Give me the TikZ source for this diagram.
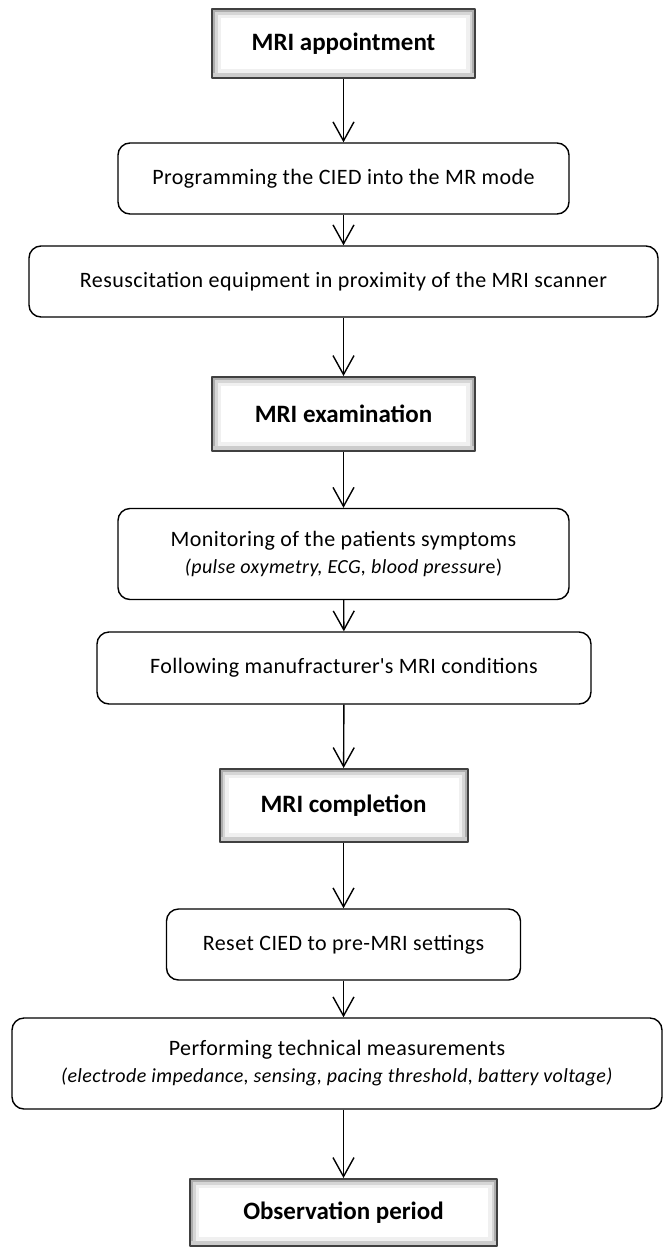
\documentclass[tikz,border=0pt]{standalone}
\usepackage{fontspec}
\setmainfont{Carlito}
\usetikzlibrary{arrows.meta}
\begin{document}
\begin{tikzpicture}[x=1pt,y=-1pt,line join=round,
  >={Straight Barb[length=19pt,width=21pt]},
  txt/.style={font=\fontsize{22}{27}\selectfont\addfontfeature{LetterSpace=2},align=center,inner sep=0pt},
  rbox/.style={txt,draw,line width=1.4pt,rounded corners=12pt},
  bevel/.style={txt,font=\fontsize{25}{28}\selectfont\bfseries,draw=black!75,line width=2pt,fill=white,
    path picture={
      \draw[black!6,line width=18pt] (path picture bounding box.south west) rectangle (path picture bounding box.north east);
      \draw[black!16,line width=11pt] (path picture bounding box.south west) rectangle (path picture bounding box.north east);
      \draw[black!32,line width=6pt] (path picture bounding box.south west) rectangle (path picture bounding box.north east);
      \draw[black!20,line width=10pt] (path picture bounding box.south west) -- (path picture bounding box.south east);}},
  note/.style={font=\fontsize{20}{27}\selectfont\itshape},
  flow/.style={->,line width=1.4pt}]
  \useasboundingbox (0,0) rectangle (665,1248);
  % steps, top to bottom
  \node[bevel,minimum width=263pt,minimum height=69pt] (appt) at (343.5,43.5) {MRI appointment};
  \node[rbox,minimum width=451pt,minimum height=71pt] (prog) at (343.5,178.5) {Programming the CIED into the MR mode};
  \node[rbox,minimum width=629pt,minimum height=71pt] (resus) at (343.5,281.5) {Resuscitation equipment in proximity of the MRI scanner};
  \node[bevel,minimum width=263pt,minimum height=74pt] (exam) at (343.5,414) {MRI examination};
  \node[rbox,minimum width=451pt,minimum height=91pt] (monit) at (343.5,554) {Monitoring of the patients symptoms\\ {\fontsize{20}{27}\selectfont\textit{(pulse oxymetry, ECG, blood pressur}e)}};
  \node[rbox,minimum width=494pt,minimum height=72pt] (follow) at (344,668) {Following manufracturer\textquotesingle s MRI conditions};
  \node[bevel,minimum width=248pt,minimum height=73pt] (compl) at (343.5,805.5) {MRI completion};
  \node[rbox,minimum width=354pt,minimum height=71pt] (reset) at (343.5,944.5) {Reset CIED to pre-MRI settings};
  \node[rbox,minimum width=650pt,minimum height=91pt] (perf) at (337,1063.5) {Performing technical measurements\\ {\fontsize{20}{27}\selectfont\textit{(electrode impedance, sensing, pacing threshold, battery voltage)}}};
  \node[bevel,minimum width=307pt,minimum height=67pt] (obs) at (343.5,1212.5) {Observation period};
  % arrows
  \draw[flow] (appt) -- (prog);
  \draw[flow] (prog) -- (resus);
  \draw[flow] (resus) -- (exam);
  \draw[flow] (exam) -- (monit);
  \draw[flow] (monit) -- (follow);
  \draw[flow] (follow) -- (compl);
  \draw[flow] (compl) -- (reset);
  \draw[flow] (reset.south) -- (reset.south |- perf.north);
  \draw[flow] (perf.south -| obs.north) -- (obs);
\end{tikzpicture}
\end{document}
